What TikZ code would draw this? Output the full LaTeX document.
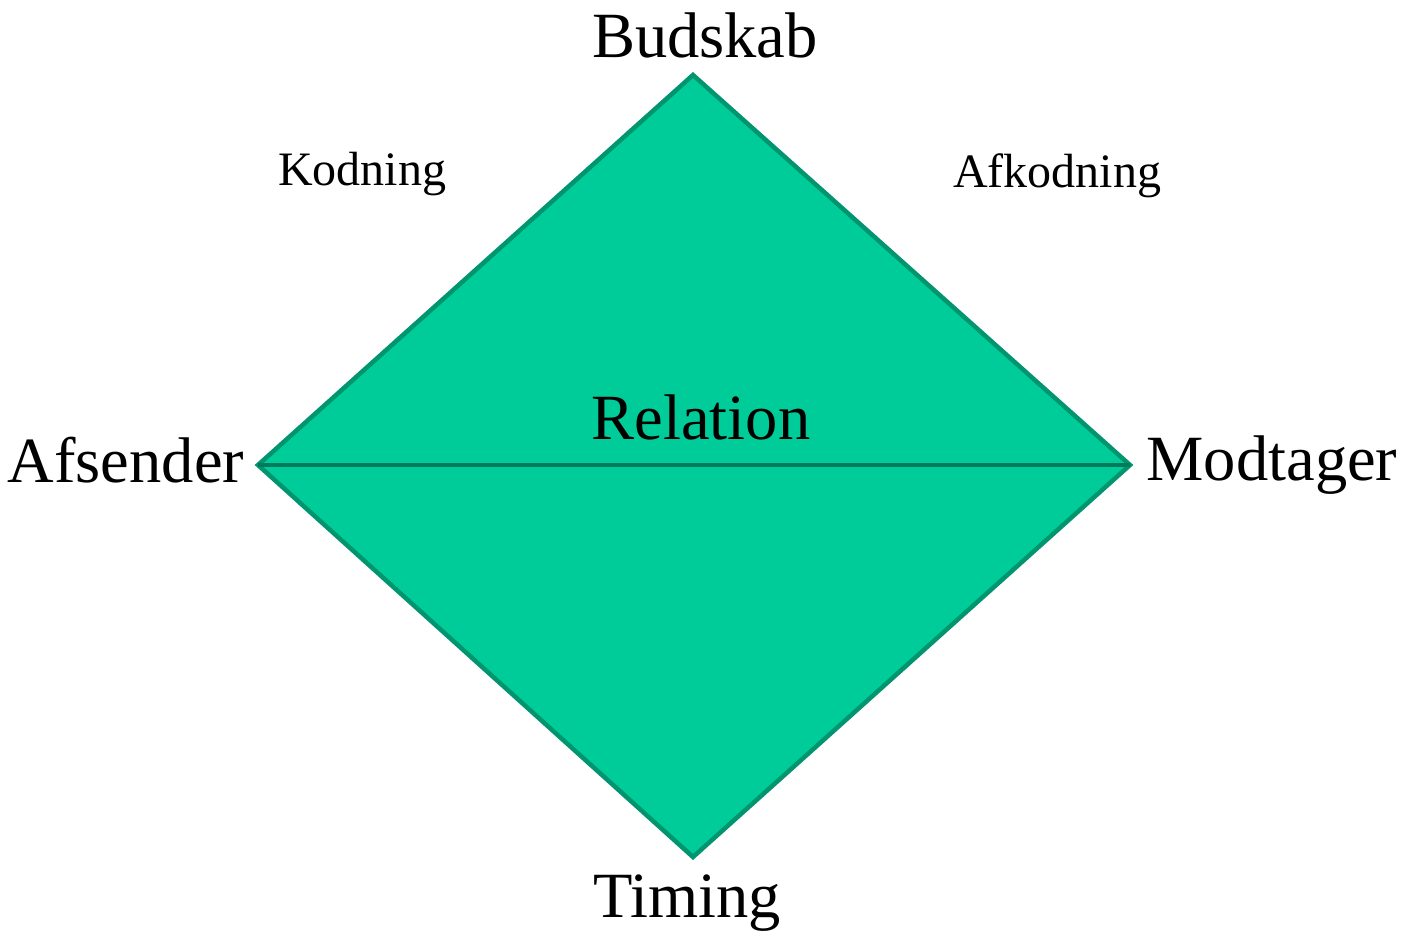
\documentclass[tikz,border=0pt]{standalone}
\usepackage{fontspec}
\setmainfont{Liberation Serif}
\definecolor{dfill}{HTML}{00CC99}
\definecolor{dedge}{HTML}{00946F}
\definecolor{dmid}{HTML}{00795C}
\begin{document}
\begin{tikzpicture}[x=1pt,y=-1pt,
  big/.style={font=\fontsize{64.5}{72}\selectfont, anchor=base, inner sep=0pt},
  small/.style={font=\fontsize{48}{55}\selectfont, anchor=base, inner sep=0pt}]
\useasboundingbox (0,0) rectangle (1409,932);
\coordinate (T) at (693,75);
\coordinate (L) at (258,465);
\coordinate (R) at (1130,465);
\coordinate (B) at (693,857);
\draw[fill=dfill, draw=dedge, line width=4.5pt, line join=miter] (T) -- (R) -- (B) -- (L) -- cycle;
\draw[dmid, line width=4pt] (L) -- (R);
\node[big] (budskab) at (705,57) {Budskab};
\node[small] (kodning) at (362,185) {Kodning};
\node[small] (afkodning) at (1057,187) {Afkodning};
\node[big] (afsender) at (126,482) {Afsender};
\node[big] (modtager) at (1272,480) {Modtager};
\node[big] (relation) at (701,439) {Relation};
\node[big] (timing) at (687,917) {Timing};
\end{tikzpicture}
\end{document}
